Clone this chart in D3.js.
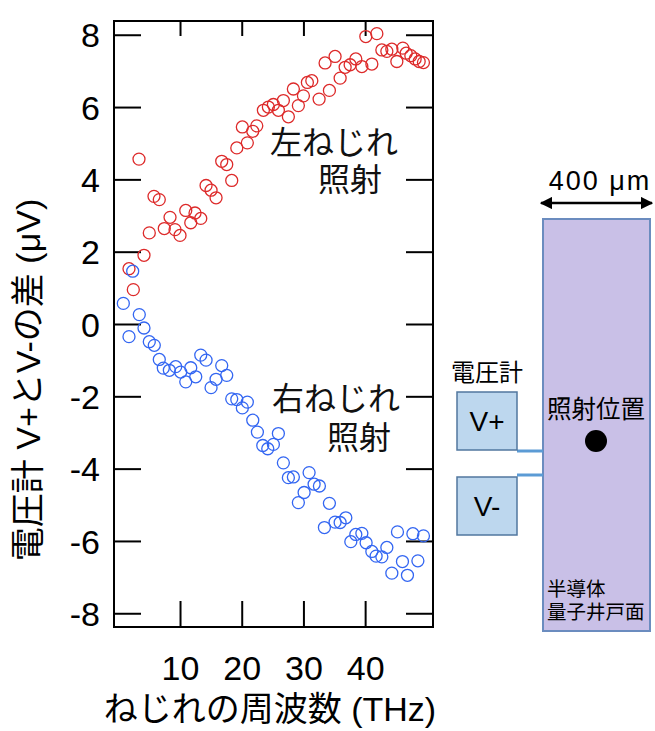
<!DOCTYPE html>
<html>
<head>
<meta charset="utf-8">
<script src="https://cdn.jsdelivr.net/npm/d3@7"></script>
<style>
  body { margin: 0; background: #fff; }
  svg { display: block; }
  text { font-family: "Liberation Sans", "Noto Sans CJK JP", sans-serif; }
</style>
</head>
<body>
<svg id="chart" width="655" height="731"></svg>
<script>
// left-twist illumination (red)
const leftX = [1.73, 2.43, 3.35, 4.16, 5.02, 5.78, 6.64, 7.45, 8.38, 9.19, 10.0, 10.93, 11.74, 12.43, 13.36,
  14.22, 15.03, 15.84, 16.76, 17.57, 18.38, 19.2, 20.1, 20.91, 21.79, 22.44, 23.51, 24.32, 25.13, 25.94,
  26.75, 27.56, 28.37, 29.18, 30.0, 30.64, 31.36, 32.54, 33.51, 34.21, 35.13, 35.95, 36.76, 37.57, 38.49,
  39.47, 40.11, 41.09, 41.9, 42.71, 43.52, 44.33, 45.14, 46.11, 46.65, 47.41, 48.11, 48.76, 49.45]
const leftY = [1.53, 0.95, 4.56, 1.9, 2.52, 3.53, 3.44, 2.64, 2.95, 2.61, 2.45, 3.14, 2.8, 3.07, 2.92,
  3.83, 3.7, 3.49, 4.5, 4.41, 3.97, 4.87, 5.45, 5.01, 5.33, 5.48, 5.91, 6.0, 6.07, 5.91,
  6.18, 5.73, 6.5, 6.04, 6.31, 6.68, 6.73, 6.22, 7.22, 6.46, 7.4, 6.8, 7.1, 7.17, 7.33,
  7.12, 7.95, 7.19, 8.03, 7.58, 7.54, 7.6, 7.26, 7.63, 7.49, 7.42, 7.33, 7.26, 7.23]

// right-twist illumination (blue)
const rightX = [0.81, 1.73, 2.33, 3.4, 4.16, 5.02, 5.83, 6.64, 7.29, 8.27, 9.3, 10.11, 10.93, 11.74, 12.55,
  13.36, 14.22, 15.03, 15.84, 16.76, 17.57, 18.38, 19.2, 20.1, 20.91, 21.79, 22.54, 23.41, 24.22, 25.13,
  25.94, 26.75, 27.56, 28.37, 29.18, 30.11, 30.92, 31.73, 32.59, 33.4, 34.21, 35.13, 35.95, 36.87, 37.68,
  38.49, 39.47, 40.16, 41.09, 41.78, 42.71, 43.52, 44.33, 45.24, 46.05, 46.86, 47.74, 48.55, 49.45]
const rightY = [0.57, -0.35, 1.46, 0.26, -0.11, -0.49, -0.59, -0.98, -1.22, -1.28, -1.18, -1.33, -1.6, -1.21, -1.46,
  -0.86, -1.0, -1.76, -1.53, -1.15, -1.42, -2.07, -2.09, -2.32, -2.16, -2.66, -2.99, -3.36, -3.45, -3.33,
  -3.03, -3.84, -4.25, -4.23, -4.94, -4.66, -4.11, -4.43, -4.48, -5.63, -4.96, -5.48, -5.49, -5.36, -6.02,
  -5.82, -5.79, -6.05, -6.29, -6.42, -6.44, -6.18, -6.89, -5.75, -6.57, -6.95, -5.8, -6.55, -5.86]

const xTicks = [10, 20, 30, 40]
const yTicks = [-8, -6, -4, -2, 0, 2, 4, 6, 8]

const svg = d3.select("#chart")
const plotL = 114, plotR = 433, plotT = 21, plotB = 627

const x = d3.scaleLinear().domain([-0.7, 51]).range([plotL, plotR])
const y = d3.scaleLinear().domain([-8.38, 8.38]).range([plotB, plotT])

const styleAxis = g => {
  g.select(".domain").remove()
  g.selectAll(".tick line").attr("stroke", "#000").attr("stroke-width", 2)
  g.selectAll(".tick text").attr("fill", "#000").style("font-size", "34px")
    .style("font-family", '"Liberation Sans", sans-serif')
}

// plain hyphen for negatives, like the original
const plain = d => String(d)

svg.append("g").attr("transform", `translate(${plotL},0)`)
  .call(d3.axisLeft(y).tickValues(yTicks).tickFormat(plain).tickSizeInner(-27).tickSizeOuter(0).tickPadding(14))
  .call(styleAxis)
  .selectAll(".tick text").attr("dy", "0.36em")

svg.append("g").attr("transform", `translate(${plotR},0)`)
  .call(d3.axisRight(y).tickValues(yTicks).tickSizeInner(-27).tickSizeOuter(0).tickFormat(""))
  .call(styleAxis)

svg.append("g").attr("transform", `translate(0,${plotB})`)
  .call(d3.axisBottom(x).tickValues(xTicks).tickFormat(plain).tickSizeInner(-26).tickSizeOuter(0).tickPadding(29))
  .call(styleAxis)

svg.append("g").attr("transform", `translate(0,${plotT})`)
  .call(d3.axisTop(x).tickValues(xTicks).tickSizeInner(-15).tickSizeOuter(0).tickFormat(""))
  .call(styleAxis)

svg.append("rect")
  .attr("x", plotL).attr("y", plotT).attr("width", plotR - plotL).attr("height", plotB - plotT)
  .attr("fill", "none").attr("stroke", "#000").attr("stroke-width", 2)

const drawSeries = (xs, ys, color) => {
  svg.append("g").selectAll("circle")
    .data(xs.map((d, i) => [d, ys[i]]))
    .join("circle")
    .attr("cx", d => x(d[0]))
    .attr("cy", d => y(d[1]))
    .attr("r", 6)
    .attr("fill", "none")
    .attr("stroke", color)
    .attr("stroke-width", 1.3)
}
drawSeries(leftX, leftY, "#dd2a2a")
drawSeries(rightX, rightY, "#3366f2")

// labels inside the plot
const note = (t, px, py) => svg.append("text").attr("x", px).attr("y", py)
  .style("font-size", "32px").attr("fill", "#111").text(t)
note("左ねじれ", 270, 154)
note("照射", 318, 191)
note("右ねじれ", 272, 410)
note("照射", 327, 449)

// axis titles
svg.append("text")
  .attr("x", 270).attr("y", 721).attr("text-anchor", "middle")
  .style("font-size", "34px").text("ねじれの周波数 (THz)")

svg.append("text")
  .attr("transform", "translate(40,380) rotate(-90)")
  .attr("text-anchor", "middle")
  .style("font-size", "34px").text("電圧計 V+とV-の差 (μV)")

// sample sketch on the right
const defs = svg.append("defs")
defs.append("marker").attr("id", "ah").attr("viewBox", "0 0 10 10")
  .attr("refX", 9).attr("refY", 5).attr("markerWidth", 5).attr("markerHeight", 5)
  .attr("orient", "auto-start-reverse")
  .append("path").attr("d", "M0,0L10,5L0,10z").attr("fill", "#000")

svg.append("line").attr("x1", 541).attr("x2", 652).attr("y1", 203).attr("y2", 203)
  .attr("stroke", "#000").attr("stroke-width", 2.5)
  .attr("marker-start", "url(#ah)").attr("marker-end", "url(#ah)")
svg.append("text").attr("x", 600).attr("y", 190).attr("text-anchor", "middle")
  .style("font-size", "27px").style("letter-spacing", "2px").text("400 μm")

svg.append("rect").attr("x", 543).attr("y", 219).attr("width", 107).attr("height", 412)
  .attr("fill", "#c9c0e7").attr("stroke", "#6b8cbf").attr("stroke-width", 2)

svg.append("line").attr("x1", 517).attr("x2", 543).attr("y1", 451).attr("y2", 451)
  .attr("stroke", "#5b9bd5").attr("stroke-width", 3)
svg.append("line").attr("x1", 517).attr("x2", 543).attr("y1", 475).attr("y2", 475)
  .attr("stroke", "#5b9bd5").attr("stroke-width", 3)

svg.append("rect").attr("x", 457).attr("y", 392).attr("width", 60).attr("height", 58)
  .attr("fill", "#bdd7ee").attr("stroke", "#51779f").attr("stroke-width", 1.5)
svg.append("rect").attr("x", 457).attr("y", 477).attr("width", 60).attr("height", 58)
  .attr("fill", "#bdd7ee").attr("stroke", "#51779f").attr("stroke-width", 1.5)

svg.append("text").attr("x", 487).attr("y", 431).attr("text-anchor", "middle")
  .style("font-size", "28px").text("V+")
svg.append("text").attr("x", 487).attr("y", 516).attr("text-anchor", "middle")
  .style("font-size", "28px").text("V-")
svg.append("text").attr("x", 451).attr("y", 381)
  .style("font-size", "24px").text("電圧計")
svg.append("text").attr("x", 547).attr("y", 418)
  .style("font-size", "24.5px").text("照射位置")
svg.append("circle").attr("cx", 596).attr("cy", 441).attr("r", 11).attr("fill", "#000")
svg.append("text").attr("x", 547).attr("y", 596)
  .style("font-size", "19.5px").text("半導体")
svg.append("text").attr("x", 547).attr("y", 619)
  .style("font-size", "19.5px").text("量子井戸面")
</script>
</body>
</html>
